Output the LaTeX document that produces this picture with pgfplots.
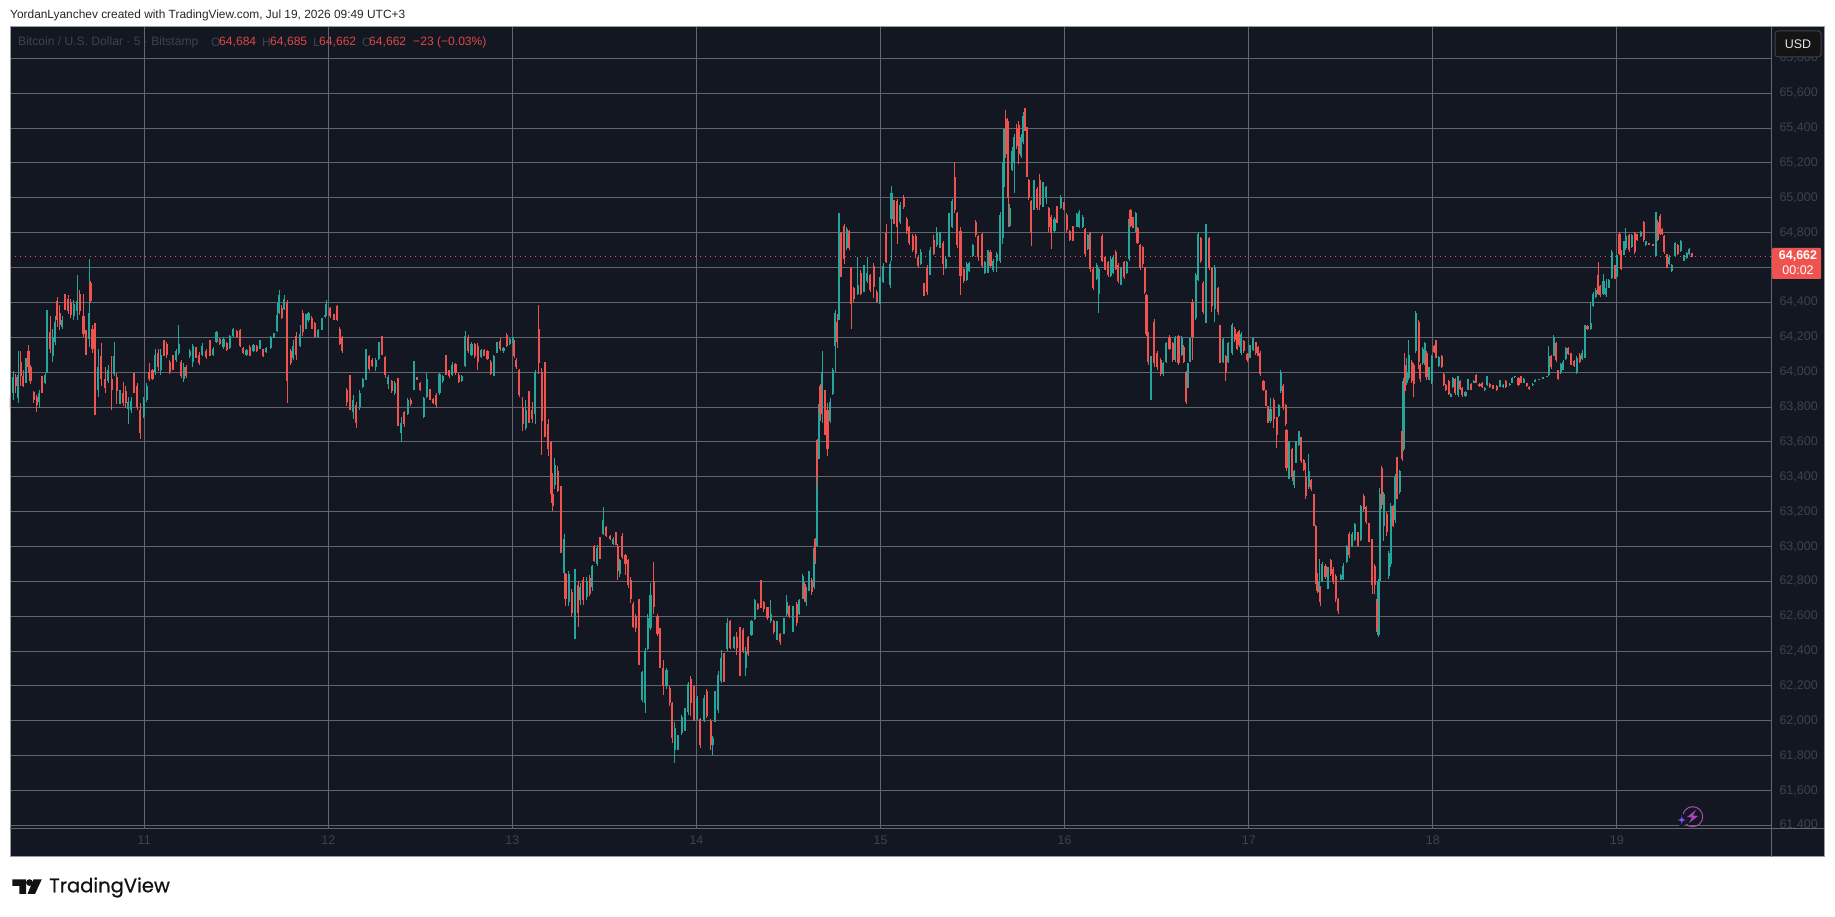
\documentclass[border=0pt]{standalone}
\usepackage{pgfplots}
\usepackage{pgfplotstable}
\usepackage{fontspec}
\pgfplotsset{compat=1.18}
\setmainfont{Liberation Sans}
\newfontfamily\tvfont[FakeBold=0.7]{Poppins}
\definecolor{bg}{HTML}{131722}
\definecolor{gridc}{HTML}{63656E}
\definecolor{framec}{HTML}{9A9CA3}
\definecolor{dimc}{HTML}{3F424C}
\definecolor{upc}{HTML}{26A69A}
\definecolor{downc}{HTML}{EF5350}
\definecolor{redtxt}{HTML}{E04646}
\pgfplotstableread{
x l h o c
78 63785 63860 63845 63800
83 63840 64005 63880 63970
87 63880 63990 63970 63920
91 63825 64120 63850 63985
95 63920 64120 64060 63975
99 63915 64015 63980 63920
103 63935 64080 63950 64050
107 63995 64155 64120 64030
110 63930 64040 64030 63950
115 63825 63890 63885 63840
120 63770 63870 63860 63810
124 63795 63900 63830 63880
128 63880 63975 63955 63900
133 63930 63995 63940 63985
136 63995 64355 64000 64260
141 64110 64320 64230 64130
145 64060 64250 64090 64200
149 64155 64320 64170 64290
152 64260 64430 64410 64300
156 64240 64385 64340 64270
160 64250 64320 64260 64300
164 64355 64450 64430 64370
169 64335 64440 64420 64350
173 64310 64420 64400 64330
178 64300 64415 64320 64390
183 64300 64560 64350 64410
187 64330 64470 64450 64350
193 64200 64450 64320 64220
197 64100 64240 64220 64120
202 64145 64650 64190 64340
204 64395 64525 64510 64410
207 64110 64270 64250 64130
211 63755 64280 64130 64000
216 63860 64130 63900 64030
221 63920 64165 64090 63960
227 63880 64030 63960 63910
232 63935 64040 63950 64015
237 63785 64090 63960 63900
241 63975 64170 63990 64095
245 63815 63995 63970 63890
250 63815 63900 63830 63880
255 63805 63945 63880 63825
259 63795 63920 63890 63820
263 63700 63860 63790 63830
268 63765 63860 63780 63835
272 63880 63995 63980 63900
277 63785 63935 63920 63800
282 63615 63825 63780 63650
287 63735 63860 63750 63840
292 63830 63935 63840 63920
296 63950 64050 64000 63960
301 63955 64020 64010 63960
305 63985 64130 64000 64100
310 64005 64130 64110 64030
314 63985 64130 64010 64100
319 64090 64185 64170 64110
323 64080 64175 64160 64100
328 63990 64070 64060 64000
333 64015 64100 64080 64030
338 64060 64130 64070 64120
342 64100 64270 64110 64160
346 63965 64070 64060 63980
350 63945 64050 63960 64030
354 63965 64040 64030 63975
359 64080 64130 64090 64120
364 64030 64160 64060 64150
369 64080 64145 64130 64090
374 64040 64115 64100 64050
379 64090 64165 64100 64150
385 64075 64135 64120 64085
391 64090 64185 64170 64100
396 64090 64145 64100 64130
401 64165 64235 64170 64230
406 64155 64195 64190 64160
412 64135 64200 64145 64190
417 64120 64175 64165 64125
422 64135 64215 64140 64205
427 64200 64255 64205 64250
433 64195 64240 64235 64200
438 64145 64245 64240 64150
443 64105 64145 64140 64110
448 64090 64135 64100 64125
453 64090 64155 64145 64095
459 64115 64160 64120 64155
464 64115 64155 64150 64120
469 64130 64185 64135 64175
474 64085 64135 64130 64090
479 64110 64145 64115 64140
486 64135 64205 64140 64200
491 64195 64225 64200 64220
496 64230 64395 64235 64330
499 64335 64470 64340 64440
503 64305 64385 64370 64310
507 64355 64440 64360 64420
512 63820 64415 64400 63950
517 64040 64130 64120 64050
521 64070 64185 64080 64150
526 64070 64230 64210 64100
532 64145 64270 64150 64220
536 64205 64355 64340 64230
541 64250 64335 64255 64320
545 64290 64345 64300 64340
550 64245 64320 64310 64250
555 64195 64290 64280 64200
560 64195 64250 64200 64240
566 64240 64310 64245 64300
571 64310 64335 64315 64330
573 64320 64415 64330 64390
579 64310 64375 64370 64320
585 64300 64335 64330 64310
590 64295 64385 64380 64300
594 64155 64260 64250 64160
598 64110 64205 64200 64120
605 63805 63910 63900 63830
610 63780 63985 63975 63800
615 63730 63870 63770 63840
620 63680 63830 63810 63710
625 63785 63900 63800 63880
630 63910 63965 63915 63960
635 63955 64130 63960 64120
640 64005 64100 64090 64020
645 64030 64080 64070 64035
650 64005 64080 64030 64070
655 64070 64175 64075 64170
660 64100 64205 64190 64110
665 63965 64095 64085 63985
670 63905 63985 63930 63970
675 63880 63955 63950 63890
680 63870 63950 63880 63940
685 63690 63965 63950 63700
690 63600 63745 63650 63710
695 63685 63775 63770 63700
700 63755 63850 63760 63840
705 63805 63850 63840 63815
710 63900 64065 63910 64060
715 63955 63970 63970 63955
720 63890 63945 63940 63900
725 63735 63860 63740 63850
730 63850 63995 63860 63960
735 63840 63905 63900 63850
740 63815 63850 63845 63820
745 63795 63880 63870 63810
750 63870 63995 63880 63990
755 63940 63985 63950 63980
760 63985 64100 64095 63990
765 63965 64015 64010 63975
770 63975 64060 63985 64040
775 63985 64050 64045 63995
780 63935 63995 63985 63945
785 63945 63985 63950 63980
790 64030 64235 64035 64210
795 64110 64215 64200 64120
800 64090 64175 64100 64160
805 64080 64165 64160 64090
810 64015 64165 64150 64060
815 64080 64130 64085 64125
820 64090 64130 64125 64095
825 64070 64125 64120 64075
830 63985 64070 64060 63990
835 63975 64100 63980 64090
840 64110 64175 64115 64170
845 64120 64195 64180 64130
850 64110 64145 64120 64140
855 64145 64225 64215 64150
860 64155 64195 64160 64190
865 64165 64200 64170 64195
867 64080 64185 64175 64090
870 64020 64080 64070 64030
875 63860 64020 64015 63870
880 63660 63860 63800 63700
885 63670 63840 63680 63780
890 63710 63890 63870 63760
895 63710 63830 63780 63730
900 63700 64015 63760 64000
905 63990 64385 64250 64050
910 63525 64025 64000 63720
915 63625 64060 63850 63700
920 63520 63730 63700 63560
925 63250 63605 63600 63300
927 63205 63420 63300 63230
930 63330 63510 63350 63470
935 63310 63460 63430 63320
940 62965 63345 63310 62980
945 62755 63070 62850 63040
947 62660 62850 62840 62700
952 62660 62860 62680 62840
957 62600 62755 62740 62620
962 62470 62870 62600 62800
967 62540 62800 62780 62620
970 62665 62790 62690 62770
975 62665 62825 62810 62690
980 62695 62825 62710 62800
985 62715 62835 62820 62730
989 62745 62895 62770 62890
992 62910 63010 63000 62915
997 62890 63010 62900 62990
1001 62930 63055 63050 62940
1006 63065 63225 63070 63150
1011 63055 63120 63110 63060
1017 63035 63065 63060 63040
1022 63010 63055 63015 63045
1026 63010 63085 63080 63015
1029 62810 63015 63000 62860
1032 62825 62930 62840 62920
1036 62930 63075 63060 62940
1041 62835 62955 62950 62900
1045 62760 62930 62920 62780
1049 62675 62825 62810 62700
1053 62530 62680 62670 62540
1057 62510 62610 62600 62530
1062 62320 62700 62690 62450
1067 62105 62285 62120 62280
1072 62045 62415 62100 62400
1076 62405 62615 62410 62590
1080 62520 62790 62530 62720
1085 62610 62910 62800 62650
1091 62485 62615 62600 62500
1095 62305 62530 62520 62320
1100 62150 62350 62300 62200
1105 62180 62305 62200 62290
1110 62085 62200 62190 62100
1114 61875 62110 62100 61900
1118 61760 61990 61830 61960
1123 61835 61920 61840 61910
1129 61920 62035 61930 62020
1134 61940 62075 61950 62060
1139 62035 62225 62050 62210
1143 62025 62255 62240 62100
1148 62000 62200 62190 62070
1153 62000 62140 62010 62130
1158 61845 62015 62010 61860
1164 61990 62150 62000 62130
1168 62015 62180 62170 62030
1174 61835 62010 62000 61860
1177 61805 61910 61860 61900
1181 61990 62170 62000 62150
1186 62045 62285 62060 62260
1191 62215 62405 62230 62360
1195 62225 62390 62380 62260
1200 62400 62590 62410 62560
1205 62410 62580 62570 62420
1211 62410 62485 62420 62480
1215 62380 62510 62480 62420
1220 62255 62540 62530 62300
1225 62390 62530 62520 62400
1229 62255 62425 62300 62400
1233 62370 62485 62480 62385
1238 62485 62580 62490 62570
1243 62580 62700 62585 62690
1248 62635 62675 62670 62640
1253 62645 62810 62790 62660
1257 62625 62685 62680 62640
1263 62580 62655 62650 62590
1268 62560 62695 62570 62610
1273 62495 62580 62570 62510
1278 62465 62570 62480 62530
1283 62435 62505 62500 62450
1289 62495 62590 62500 62580
1293 62600 62720 62610 62680
1297 62590 62665 62660 62600
1303 62510 62660 62520 62620
1309 62545 62680 62670 62560
1313 62605 62700 62610 62690
1318 62700 62840 62705 62830
1321 62680 62795 62785 62700
1324 62660 62765 62680 62750
1328 62745 62860 62755 62840
1332 62720 62820 62810 62740
1336 62755 63005 62770 62990
1338 62900 63050 63040 62920
1340 63005 63405 63005 63350
1341 63335 63615 63610 63400
1343 63500 63815 63500 63790
1346 63720 63930 63920 63760
1349 63710 64120 63790 64000
1353 63640 63900 63880 63700
1357 63520 63825 63780 63560
1361 63710 63850 63720 63830
1365 63870 64025 63875 64010
1369 64000 64355 64150 64340
1372 64140 64335 64290 64170
1375 64300 64910 64450 64860
1378 64545 64805 64780 64570
1383 64620 64850 64840 64650
1387 64700 64835 64710 64820
1391 64700 64815 64810 64710
1394 64250 64605 64600 64390
1398 64405 64490 64480 64420
1404 64440 64660 64450 64500
1409 64440 64585 64570 64450
1414 64460 64615 64470 64590
1419 64510 64660 64520 64570
1424 64460 64565 64555 64470
1429 64425 64625 64610 64490
1434 64395 64470 64460 64405
1439 64390 64545 64400 64535
1444 64510 64625 64515 64610
1449 64625 64850 64800 64630
1455 64480 64640 64500 64620
1457 64640 65065 64880 65030
1461 64850 64985 64970 64880
1466 64735 64995 64980 64830
1471 64850 64975 64860 64960
1476 64935 65015 65000 64945
1481 64795 64890 64880 64810
1485 64730 64840 64830 64740
1490 64690 64795 64780 64700
1495 64655 64795 64780 64680
1499 64600 64670 64660 64610
1503 64615 64705 64620 64690
1508 64435 64510 64500 64445
1513 64440 64615 64600 64460
1518 64555 64720 64560 64700
1523 64670 64785 64760 64680
1528 64720 64830 64730 64800
1533 64710 64805 64720 64790
1538 64555 64755 64740 64620
1542 64590 64660 64600 64650
1547 64660 64910 64670 64890
1552 64825 64995 64835 64980
1556 64910 65205 65120 64930
1560 64710 64920 64910 64730
1565 64440 64830 64810 64550
1570 64510 64595 64590 64520
1575 64520 64630 64530 64620
1579 64575 64630 64580 64625
1584 64660 64735 64665 64730
1589 64775 64870 64860 64785
1593 64640 64785 64780 64660
1599 64595 64800 64790 64610
1603 64565 64640 64570 64630
1608 64570 64700 64580 64690
1612 64605 64700 64690 64610
1616 64575 64650 64585 64640
1622 64575 64690 64640 64680
1627 64625 64920 64640 64900
1631 64735 65205 64770 65150
1633 65060 65395 65070 65350
1636 65230 65505 65450 65250
1639 65230 65460 65440 65280
1640 64830 65430 65400 65000
1642 64830 64965 64840 64940
1646 65155 65290 65160 65270
1649 65025 65365 65200 65350
1653 65280 65425 65400 65300
1656 65195 65440 65420 65250
1660 65230 65365 65240 65350
1663 65310 65495 65320 65470
1666 65385 65515 65500 65395
1669 65120 65405 65400 65140
1672 64985 65110 65100 65000
1676 64725 64985 64980 64800
1680 64930 65100 64940 65090
1685 64930 65060 65050 64940
1689 64930 65135 65100 64960
1694 64945 65090 64960 65080
1699 64965 65070 65000 65060
1703 64805 64945 64940 64830
1707 64705 64900 64890 64800
1712 64805 64890 64810 64880
1716 64855 64955 64945 64860
1722 64935 65015 64940 65005
1727 64930 64975 64970 64935
1731 64805 64910 64900 64815
1736 64755 64815 64810 64760
1741 64755 64840 64830 64760
1747 64830 64910 64835 64905
1751 64825 64930 64835 64920
1756 64825 64900 64830 64890
1760 64660 64825 64820 64680
1764 64700 64795 64705 64785
1768 64575 64805 64800 64590
1773 64470 64605 64590 64480
1778 64530 64625 64535 64615
1781 64340 64595 64450 64590
1787 64630 64790 64780 64640
1791 64585 64660 64650 64590
1796 64545 64640 64630 64560
1800 64545 64660 64550 64650
1804 64565 64670 64570 64660
1808 64585 64700 64690 64590
1812 64510 64625 64615 64520
1816 64500 64605 64510 64595
1821 64535 64640 64630 64545
1825 64565 64640 64570 64630
1829 64640 64890 64650 64880
1831 64830 64935 64930 64840
1835 64825 64890 64880 64830
1839 64805 64920 64815 64910
1842 64735 64830 64825 64740
1846 64585 64735 64730 64600
1850 64605 64725 64720 64620
1853 64450 64605 64600 64460
1856 64205 64450 64445 64220
1859 64040 64230 64220 64060
1863 63840 64090 63860 63960
1868 64030 64305 64290 64050
1873 64015 64120 64110 64030
1878 63975 64080 64070 63990
1882 63980 64060 63990 64050
1887 64050 64175 64060 64165
1892 64125 64215 64200 64135
1897 64060 64175 64165 64070
1901 64060 64205 64070 64195
1906 64040 64215 64205 64055
1911 64090 64205 64100 64195
1914 64050 64155 64145 64060
1918 63815 64005 64000 63830
1921 63910 64050 63915 64040
1924 64060 64195 64070 64190
1928 64070 64420 64400 64200
1933 64300 64570 64310 64560
1937 64520 64805 64530 64790
1941 64625 64775 64770 64640
1945 64335 64520 64510 64345
1949 64280 64850 64300 64500
1954 64585 64775 64770 64600
1958 64345 64605 64600 64380
1963 64290 64615 64360 64600
1968 64330 64490 64480 64345
1971 64050 64270 64260 64100
1976 64050 64195 64060 64190
1980 63950 64100 64090 64000
1984 64050 64175 64060 64165
1990 64100 64280 64110 64270
1994 64175 64260 64250 64185
1998 64125 64230 64220 64135
2001 64145 64240 64235 64155
2004 64100 64230 64110 64220
2008 64110 64185 64180 64120
2014 64060 64110 64105 64070
2018 64080 64155 64085 64150
2023 64120 64200 64125 64195
2027 64100 64175 64170 64110
2031 64090 64150 64145 64095
2034 63975 64120 64110 63990
2039 63890 63955 63950 63900
2043 63805 63900 63895 63810
2046 63710 63805 63800 63720
2050 63710 63850 63720 63790
2055 63680 63850 63840 63730
2060 63565 63745 63740 63640
2063 63745 63815 63750 63810
2066 63880 64015 63890 64000
2070 63785 63930 63920 63800
2074 63690 63815 63810 63700
2075 63430 63675 63670 63450
2079 63385 63605 63450 63580
2084 63375 63565 63560 63400
2087 63335 63440 63350 63430
2090 63480 63605 63490 63600
2094 63575 63665 63580 63660
2098 63480 63630 63625 63490
2102 63430 63500 63495 63440
2105 63270 63480 63400 63290
2110 63330 63530 63340 63430
2114 63320 63385 63380 63330
2118 63120 63300 63295 63130
2121 62785 63125 63120 62800
2123 62735 62850 62840 62745
2126 62725 62930 62740 62800
2128 62660 62775 62770 62680
2131 62795 62910 62800 62900
2136 62815 62900 62890 62825
2140 62755 62880 62830 62875
2144 62830 62930 62920 62840
2148 62785 62880 62870 62800
2152 62680 62840 62830 62700
2156 62615 62705 62700 62630
2160 62805 62840 62810 62835
2164 62810 62905 62815 62890
2169 62905 63010 62910 63000
2173 62935 63080 63070 62950
2178 62995 63080 63000 63070
2182 63030 63135 63035 63130
2187 63005 63080 63070 63010
2191 63030 63240 63035 63230
2196 63205 63300 63290 63215
2200 63130 63230 63225 63140
2204 63025 63135 63130 63030
2209 62725 63045 63040 62780
2213 62725 62900 62890 62780
2216 62510 62700 62690 62520
2219 62480 62815 62490 62800
2221 62735 63335 62800 63300
2224 63215 63460 63450 63240
2227 63030 63310 63120 63300
2232 63060 63195 63185 63080
2235 62815 62975 62830 62965
2238 62880 63250 62900 63230
2242 63110 63240 63230 63120
2245 63135 63415 63150 63400
2248 63270 63515 63500 63350
2252 63300 63440 63310 63430
2256 63490 63670 63660 63500
2258 63545 63965 63560 63950
2260 63880 64110 64040 63890
2263 63925 64080 63935 64000
2266 63955 64185 63965 64100
2271 63935 64070 64060 63950
2274 63860 64050 64040 63930
2277 64110 64350 64120 64340
2282 64020 64300 64290 64060
2284 63945 64050 64040 63960
2288 64040 64145 64050 64130
2291 64040 64175 64045 64165
2294 63955 64120 64110 63970
2298 63955 64030 63960 64020
2302 63930 64100 63945 64090
2306 64110 64155 64150 64115
2309 64080 64185 64180 64095
2313 64030 64090 64035 64085
2318 64025 64100 64095 64030
2321 63920 63995 63990 63925
2324 63890 63930 63925 63895
2329 63870 63955 63950 63875
2332 63855 63880 63860 63875
2335 63910 63970 63915 63965
2339 63870 63965 63960 63880
2344 63855 63980 63870 63975
2347 63900 63955 63950 63905
2350 63860 63915 63910 63870
2355 63860 63890 63865 63885
2359 63895 63960 63900 63955
2364 63895 63935 63930 63900
2368 63935 63955 63940 63950
2372 63935 63990 63985 63940
2377 63915 63935 63930 63920
2381 63910 63945 63940 63915
2385 63890 63915 63895 63910
2389 63920 63980 63925 63975
2393 63910 63935 63930 63915
2398 63905 63925 63920 63910
2404 63890 63925 63920 63895
2409 63915 63955 63920 63950
2414 63910 63930 63915 63925
2418 63910 63955 63950 63915
2424 63920 63935 63925 63930
2428 63935 63970 63940 63965
2432 63965 63980 63970 63975
2438 63920 63970 63965 63925
2442 63935 63980 63975 63940
2446 63935 63965 63940 63960
2451 63915 63940 63935 63920
2455 63900 63920 63915 63905
2460 63920 63935 63925 63930
2464 63945 63960 63945 63955
2470 63955 63960 63955 63960
2477 63960 63970 63960 63970
2483 63970 63980 63970 63980
2485 63980 64150 63985 64090
2489 64020 64100 64095 64030
2493 64090 64215 64095 64200
2497 64060 64175 64165 64070
2500 63955 64015 64010 63960
2504 63990 64050 63995 64045
2508 64010 64070 64015 64060
2512 64070 64145 64075 64140
2516 64100 64145 64140 64105
2520 64040 64110 64105 64050
2525 64030 64070 64065 64035
2529 63990 64090 64000 64080
2534 64050 64110 64100 64060
2538 64070 64125 64075 64110
2542 64080 64270 64085 64260
2546 64240 64270 64265 64245
2551 64240 64400 64250 64280
2555 64375 64460 64380 64450
2559 64425 64480 64430 64470
2563 64440 64630 64560 64450
2566 64430 64500 64495 64440
2571 64440 64565 64450 64520
2575 64430 64535 64440 64480
2579 64480 64535 64485 64530
2584 64535 64700 64540 64690
2589 64535 64615 64610 64540
2592 64545 64670 64550 64660
2596 64670 64805 64795 64680
2599 64585 64700 64690 64590
2603 64670 64755 64680 64750
2606 64700 64825 64710 64780
2611 64690 64795 64785 64700
2615 64710 64790 64715 64785
2620 64680 64805 64800 64690
2624 64755 64795 64790 64760
2629 64775 64810 64780 64805
2634 64745 64865 64860 64760
2637 64725 64755 64730 64750
2642 64730 64740 64740 64730
2649 64725 64735 64735 64725
2653 64665 64920 64670 64850
2656 64755 64870 64860 64760
2660 64785 64905 64895 64790
2663 64785 64825 64820 64790
2666 64680 64785 64780 64690
2670 64595 64680 64675 64600
2674 64615 64670 64620 64660
2678 64575 64620 64580 64615
2683 64660 64745 64665 64740
2687 64670 64735 64730 64680
2692 64690 64760 64695 64755
2697 64640 64670 64645 64665
2701 64650 64690 64655 64685
2705 64670 64710 64675 64705
2710 64662 64685 64684 64662
}\candles
\pgfplotsset{
  wick/.style n args={2}{draw=none, no markers, mark=none, forget plot, #2,
    error bars/.cd, y dir=plus, y explicit, error mark=none, error mark options={draw=none,fill=none},
    error bar style={draw=#1, line width=1.15pt}},
  body/.style n args={2}{draw=none, no markers, mark=none, forget plot, #2,
    error bars/.cd, y dir=plus, y explicit, error mark=none, error mark options={draw=none,fill=none},
    error bar style={draw=#1, line width=2.1pt}},
  isup/.style={restrict expr to domain={\thisrow{c}-\thisrow{o}}{0:5000}},
  isdown/.style={restrict expr to domain={\thisrow{o}-\thisrow{c}}{0.5:5000}},
}
\begin{document}
\begin{tikzpicture}[x=1pt,y=1pt]
\fill[white] (0,0) rectangle (1835,917);
\fill[bg] (10,60) rectangle (1824,890);
\begin{axis}[
  at={(10pt,88pt)}, anchor=south west, scale only axis,
  width=1761pt, height=802pt,
  xmin=78, xmax=2833, ymin=61379, ymax=65980,
  axis line style={draw=none},
  xtick={288,576,864,1152,1440,1728,2016,2304,2592},
  xticklabels={11,12,13,14,15,16,17,18,19},
  ytick={61400,61600,61800,62000,62200,62400,62600,62800,63000,63200,63400,63600,63800,64000,64200,64400,64800,65000,65200,65400,65600,65800},
  extra y ticks={64600}, extra y tick labels={},
  extra y tick style={grid=major},
  yticklabel pos=right,
  major tick length=0pt,
  grid=major,
  grid style={draw=gridc, line width=0.9pt},
  tick label style={font=\fontsize{12.5}{14}\selectfont, text=dimc},
  scaled y ticks=false,
  /pgf/number format/fixed,
  /pgf/number format/precision=0,
  /pgf/number format/1000 sep={,},
  /pgf/number format/assume math mode=true,
  y tick label style={xshift=5pt},
  x tick label style={yshift=-3pt},
  clip=true,
]
\addplot[downc, line width=1pt, forget plot, dash pattern=on 1pt off 4pt] coordinates {(78,64662) (2833,64662)};
\addplot[wick={upc}{isup}] table[x=x,y=l,y error plus expr=\thisrow{h}-\thisrow{l}] {\candles};
\addplot[body={upc}{isup}] table[x=x,y=o,y error plus expr=\thisrow{c}-\thisrow{o}] {\candles};
\addplot[wick={downc}{isdown}] table[x=x,y=l,y error plus expr=\thisrow{h}-\thisrow{l}] {\candles};
\addplot[body={downc}{isdown}] table[x=x,y=c,y error plus expr=\thisrow{o}-\thisrow{c}] {\candles};
\end{axis}
\begin{scope}[shift={(0,917)},y=-1pt]
\draw[framec,line width=1pt] (10,27) rectangle (1824,857);
\draw[gridc,line width=1pt] (1771,27) -- (1771,857);
\draw[gridc,line width=1pt] (10,829) -- (1824,829);
\node[anchor=west,inner sep=0pt,font=\fontsize{11.9}{14}\selectfont,text=black!85] at (10,15) {YordanLyanchev created with TradingView.com, Jul 19, 2026 09:49 UTC+3};
\begin{scope}[every node/.style={anchor=west,inner sep=0pt,font=\fontsize{12.1}{14}\selectfont}]
\node[text=dimc] at (18,42) {Bitcoin / U.S. Dollar · 5 · Bitstamp};
\node[text=dimc] at (211,42) {O};
\node[text=redtxt] at (219,42) {64,684};
\node[text=dimc] at (262,42) {H};
\node[text=redtxt] at (270,42) {64,685};
\node[text=dimc] at (313,42) {L};
\node[text=redtxt] at (319,42) {64,662};
\node[text=dimc] at (362,42) {C};
\node[text=redtxt] at (369,42) {64,662};
\node[text=redtxt] at (413,42) {−23 (−0.03\%)};
\end{scope}
% currency button
\draw[fill=black!92,draw=black!75,rounded corners=3pt,line width=1pt] (1775,31) rectangle (1821,57);
\node[text=white!90!black,font=\fontsize{12.5}{14}\selectfont] at (1798,44.5) {USD};
% price tag
\fill[downc,rounded corners=1pt] (1772,248) rectangle (1821,279);
\node[text=white,font=\fontsize{12.5}{14}\selectfont\bfseries,anchor=center] at (1798,256) {64,662};
\node[text=white,font=\fontsize{12.5}{14}\selectfont,anchor=center] at (1798,270) {00:02};
% assistant icon
\definecolor{iconp}{RGB}{171,71,188}
\definecolor{iconb}{RGB}{124,77,255}
\draw[iconp,line width=1pt] (1692.7,816.7) circle (10);
\fill[bg] (1681.7,820) circle (6);
\fill[iconp] (1696,810) -- (1687,817) -- (1692,817.5) -- (1689,823) -- (1698,816) -- (1693,815.5) -- cycle;
\fill[iconb] (1681.7,815) .. controls (1682,819) and (1682.5,819.5) .. (1686.5,820) .. controls (1682.5,820.5) and (1682,821) .. (1681.7,825) .. controls (1681.4,821) and (1681,820.5) .. (1677,820) .. controls (1681,819.5) and (1681.4,819) .. (1681.7,815) -- cycle;
% logo
\fill[black!93] (12.3,879.3) -- (26,879.3) -- (26,894) -- (19.3,894) -- (19.3,886) -- (12.3,886) -- cycle;
\fill[black!93] (29.5,882.6) circle (3.4);
\fill[black!93] (33.5,879.3) -- (41.8,879.3) -- (35,894) -- (27.5,894) -- cycle;
\node[anchor=west,inner sep=0pt,font=\tvfont\fontsize{19.5}{22}\selectfont,text=black!93] at (49,887.5) {TradingView};
\end{scope}
\end{tikzpicture}
\end{document}
